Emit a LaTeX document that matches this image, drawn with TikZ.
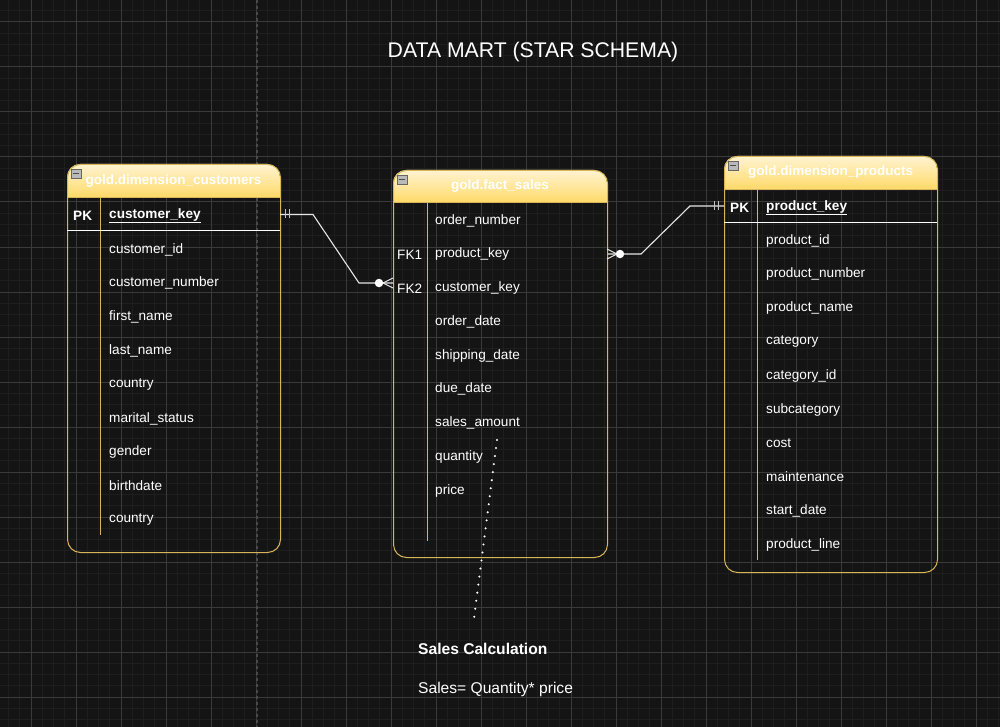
\documentclass[tikz,border=0pt]{standalone}
\usepackage{fontspec}
\setmainfont{Liberation Sans}
\definecolor{bg}{HTML}{141414}
\definecolor{gminor}{HTML}{1E1E1E}
\definecolor{gmajor}{HTML}{3A3A3A}
\definecolor{tblgold}{HTML}{D6B656}
\definecolor{hdrtop}{HTML}{FFF4D2}
\definecolor{hdrbot}{HTML}{FFD966}
\definecolor{conncol}{HTML}{E6E6E6}
\definecolor{sepline}{HTML}{4A4A4A}
\begin{document}
\begin{tikzpicture}[x=1pt,y=-1pt,
  rowtext/.style={text=white, font=\fontsize{13.6}{16}\selectfont, anchor=west, inner sep=0pt, yshift=-1.5pt},
  keytext/.style={text=white, font=\bfseries\fontsize{13.6}{16}\selectfont, anchor=west, inner sep=0pt, yshift=-1.5pt},
  hdrtext/.style={text=white, font=\bfseries\fontsize{13.5}{15}\selectfont, inner sep=0pt},
  tbl/.style={draw=tblgold, line width=1pt, rounded corners=13pt, anchor=north west, inner sep=0pt},
  goldline/.style={draw=tblgold, line width=1pt},
  keyline/.style={draw=white, line width=1pt},
  minusbox/.style={draw=gray!80!black, fill=gray!55, minimum width=10pt, minimum height=9pt, inner sep=0pt,
    path picture={\draw[black!70, line width=1pt] ([xshift=2pt]path picture bounding box.west) -- ([xshift=-2pt]path picture bounding box.east);}},
  conn/.style={draw=conncol, line width=1.1pt},
  bar/.style={draw=conncol!85!black, line width=1pt},
  dot/.style={fill=white, circle, inner sep=0pt, minimum size=8.5pt}
]
% background
\fill[bg] (0,0) rectangle (1000,727);
\useasboundingbox (0,0) rectangle (1000,727);
\foreach \i in {-2,...,86} \draw[gminor, line width=1pt] (31+11.25*\i,0) -- (31+11.25*\i,727);
\foreach \i in {-1,...,63} \draw[gminor, line width=1pt] (0,22+11.25*\i) -- (1000,22+11.25*\i);
\foreach \i in {-1,...,22} \draw[gmajor, line width=1pt] (31+45*\i,0) -- (31+45*\i,727);
\foreach \i in {0,...,16} \draw[gmajor, line width=1pt] (0,22+45*\i) -- (1000,22+45*\i);
\draw[sepline, line width=1.5pt, dash pattern=on 3pt off 3pt] (257,0) -- (257,727);

% title
\node[text=white, font=\fontsize{21.2}{25}\selectfont, inner sep=0pt] (title) at (533,52) {DATA MART (STAR SCHEMA)};

% ---------- customers ----------
\begin{scope}
  \clip[rounded corners=13pt] (67,164) rectangle (280,552);
  \shade[top color=hdrtop, bottom color=hdrbot] (67,164) rectangle (280,198);
\end{scope}
\node[tbl, minimum width=213pt, minimum height=388pt] (cust) at (67,164) {};
\draw[goldline] (67,198) -- (280,198);
\draw[goldline] (100,198) -- (100,535);
\draw[keyline] (67,231) -- (280,231);
\node[minusbox] (custm) at (76,173.5) {};
\node[hdrtext] (custh) at (173.5,181) {gold.dimension\_customers};
\node[keytext] (custpk) at (73,214) {PK};
\node[keytext] (ckey) at (109,214) {\underline{customer\_key}};
\foreach \t [count=\i] in {customer\_id,customer\_number,first\_name,last\_name,country,marital\_status,gender,birthdate,country}
  \node[rowtext] (cr\i) at (109,248+33.8*\i-33.8) {\t};

% ---------- fact sales ----------
\begin{scope}
  \clip[rounded corners=13pt] (393,170) rectangle (607,557);
  \shade[top color=hdrtop, bottom color=hdrbot] (393,170) rectangle (607,203);
\end{scope}
\node[tbl, minimum width=214pt, minimum height=387pt] (fact) at (393,170) {};
\draw[goldline] (393,203) -- (607,203);
\draw[goldline] (427,203) -- (427,541);
\node[minusbox] (factm) at (402,179.5) {};
\node[hdrtext] (facth) at (500,186) {gold.fact\_sales};
\foreach \t [count=\i] in {order\_number,product\_key,customer\_key,order\_date,shipping\_date,due\_date,sales\_amount,quantity,price}
  \node[rowtext] (fr\i) at (435,219+33.75*\i-33.75) {\t};
\node[rowtext] (fk1) at (397,253) {FK1};
\node[rowtext] (fk2) at (397,287) {FK2};

% ---------- products ----------
\begin{scope}
  \clip[rounded corners=13pt] (724,156) rectangle (937,572);
  \shade[top color=hdrtop, bottom color=hdrbot] (724,156) rectangle (937,190);
\end{scope}
\node[tbl, minimum width=213pt, minimum height=416pt] (prod) at (724,156) {};
\draw[goldline] (724,190) -- (937,190);
\draw[goldline] (757,190) -- (757,560);
\draw[keyline] (724,223) -- (937,223);
\node[minusbox] (prodm) at (733,165.5) {};
\node[hdrtext] (prodh) at (830.5,172.5) {gold.dimension\_products};
\node[keytext] (prodpk) at (730,206) {PK};
\node[keytext] (pkey) at (766,206) {\underline{product\_key}};
\foreach \t [count=\i] in {product\_id,product\_number,product\_name,category,category\_id,subcategory,cost,maintenance,start\_date,product\_line}
  \node[rowtext] (pr\i) at (766,239+33.8*\i-33.8) {\t};

% ---------- connector customers -> fact ----------
\coordinate (c1) at (280,214.5);
\coordinate (c1b) at (313,214.5);
\coordinate (c1c) at (359,283);
\coordinate (f2) at (fact.west |- 0,283);
\coordinate (f2t) at (383,283);
\draw[conn] (c1) -- (c1b) -- (c1c) -- (f2);
\draw[bar] (285,209.5) -- (285,218.5);
\draw[bar] (289,209.5) -- (289,218.5);
\node[dot] (f2dot) at (379,283) {};
\draw[conn] (f2t) -- (393,278);
\draw[conn] (f2t) -- (393,288);

% ---------- connector fact -> products ----------
\coordinate (f1) at (fact.east |- 0,254);
\coordinate (f1t) at (617,254);
\coordinate (p1b) at (641,254);
\coordinate (p1c) at (690,206);
\coordinate (p1) at (prod.west |- 0,206);
\draw[conn] (f1) -- (p1b) -- (p1c) -- (p1);
\draw[conn] (f1t) -- (607,249);
\draw[conn] (f1t) -- (607,259);
\node[dot] (f1dot) at (620,254) {};
\draw[bar] (714.5,201.5) -- (714.5,210.5);
\draw[bar] (718.5,201.5) -- (718.5,210.5);

% ---------- note ----------
\coordinate (d1) at (497,440);
\coordinate (d2) at (474,618);
\draw[white, line width=2.3pt, line cap=round, dash pattern=on 0pt off 8.1pt] (d1) -- (d2);
\node[keytext, font=\bfseries\fontsize{15.6}{18}\selectfont] (calc) at (418,647) {Sales Calculation};
\node[rowtext, font=\fontsize{15.6}{18}\selectfont] (formula) at (418,688) {Sales= Quantity* price};
\end{tikzpicture}
\end{document}
